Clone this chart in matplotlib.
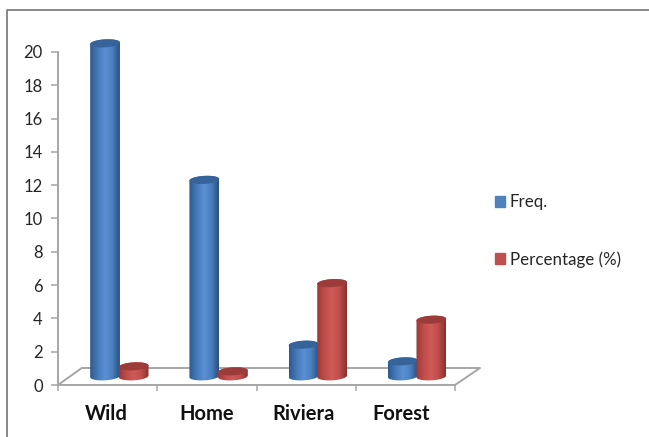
import numpy as np
import matplotlib
matplotlib.use("Agg")
import matplotlib.pyplot as plt
from matplotlib.colors import LinearSegmentedColormap
from matplotlib.lines import Line2D
from matplotlib.patches import Patch, Polygon

categories = ["Wild", "Home", "Riviera", "Forest"]
freq = [20, 11.8, 1.9, 0.9]
percentage = [0.6, 0.3, 5.6, 3.4]
y_ticks = list(range(0, 21, 2))

W, H = 649, 437
GREY = "#a6a6a6"
TEXT = "#262626"
BLUE = ["#2f5a8e", "#447ab8", "#5a90d4", "#4a80c0", "#2b4f7e"]
BLUE_TOP = "#35639a"
RED = ["#9a3a38", "#bf4d4a", "#d05a57", "#c04e4b", "#863230"]
RED_TOP = "#9c3c3a"

plt.rcParams["font.family"] = ["Lato", "DejaVu Sans"]

fig = plt.figure(figsize=(W / 100, H / 100), dpi=100, facecolor="white")
# eje en pixeles: x 58-455, y 52-385
ax = fig.add_axes([58 / W, 1 - 385 / H, 397 / W, 333 / H])
ax.set_xlim(0, 4)
ax.set_ylim(0, 20)
ax.patch.set_visible(False)

# profundidad del suelo, en unidades de los ejes
dx = 25 / 397 * 4
dy = 17 / 333 * 20
floor = [(0, 0), (dx * 0.95, dy), (4 + dx, dy), (4, 0)]
ax.add_line(Line2D(*zip(*floor), color=GREY, lw=1.4, clip_on=False, zorder=1))

BAR_W = 0.30
BASE = 0.52     # centro de la base del cilindro sobre el suelo
RY = 0.24       # semieje vertical de la elipse
TILT = 0.05     # inclinacion de la elipse


def rim(cx, cy, t):
    return np.column_stack([cx + BAR_W / 2 * np.cos(t),
                            cy + RY * np.sin(t) + TILT * np.cos(t)])


def cylinder(cx, value, stops, top_color, z):
    top = BASE + value
    cmap = LinearSegmentedColormap.from_list("cyl", stops)
    low = rim(cx, BASE, np.linspace(np.pi, 2 * np.pi, 40))
    high = rim(cx, top, np.linspace(0, np.pi, 40))
    side = Polygon(np.vstack([low, high]), closed=True, fc="none", ec="none",
                   zorder=z, clip_on=False)
    ax.add_patch(side)
    grad = np.linspace(0, 1, 64).reshape(1, -1)
    im = ax.imshow(grad, cmap=cmap, aspect="auto", zorder=z,
                   extent=(cx - BAR_W / 2, cx + BAR_W / 2, 0, top + RY + 0.1))
    # la cara lateral sobresale del eje en la barra mas alta
    im.set_clip_box(fig.bbox)
    im.set_clip_path(side)
    cap = rim(cx, top, np.linspace(0, 2 * np.pi, 80))
    ax.add_patch(Polygon(cap, closed=True, fc=top_color, ec="none", zorder=z + 0.1,
                         clip_on=False))


for i in range(len(categories)):
    cylinder(i + 0.474, freq[i], BLUE, BLUE_TOP, 3)
    cylinder(i + 0.762, percentage[i], RED, RED_TOP, 4)

ax.set_xlim(0, 4)
ax.set_ylim(0, 20)

for side in ["top", "right"]:
    ax.spines[side].set_visible(False)
for side in ["left", "bottom"]:
    ax.spines[side].set_color(GREY)
    ax.spines[side].set_linewidth(1.4)

ax.set_yticks(y_ticks)
ax.tick_params(axis="y", length=5, width=1.1, color=GREY, labelcolor=TEXT,
               labelsize=12, pad=6)
ax.set_xticks(range(5))
ax.set_xticklabels([])
ax.tick_params(axis="x", which="major", length=4, width=1.1, color=GREY)
ax.set_xticks([0.49, 1.50, 2.47, 3.46], minor=True)
ax.set_xticklabels(categories, minor=True, fontweight="bold", fontsize=14.5,
                   color="#111111")
ax.tick_params(axis="x", which="minor", length=0, pad=13.5)

handles = [Patch(fc="#4f81bd", ec="#4f81bd", label="Freq."),
           Patch(fc="#c0504d", ec="#c0504d", label="Percentage (%)")]
fig.legend(handles=handles, loc="upper left", bbox_to_anchor=(492 / W, 1 - 191 / H),
           frameon=False, fontsize=12.2, labelcolor=TEXT, labelspacing=2.4,
           handlelength=0.56, handleheight=0.56, handletextpad=0.3,
           borderpad=0.2, borderaxespad=0)

# marco exterior, solo arriba e izquierda
fig.add_artist(Line2D([7 / W, 7 / W, 1], [0, 1 - 10 / H, 1 - 10 / H],
                      color="#7f7f7f", lw=1.3))

fig.savefig("out.png", dpi=100, facecolor="white")
